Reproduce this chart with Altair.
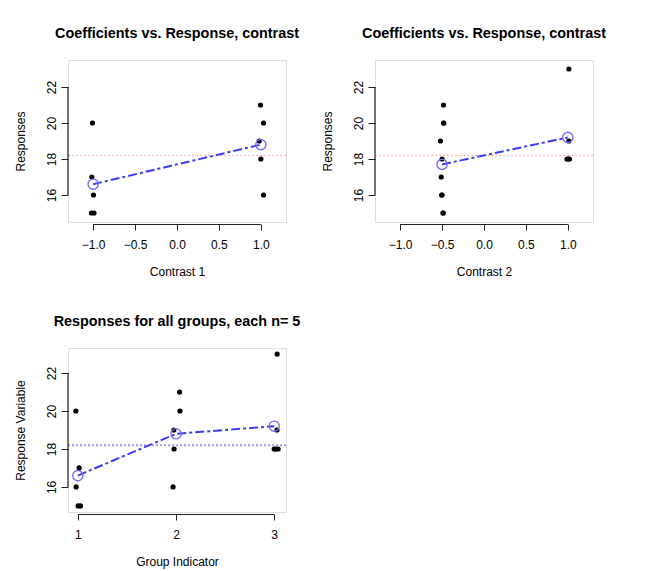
import altair as alt
import pandas as pd

FONT = "Liberation Sans"

# Responses per group
g1 = [20, 17, 16, 15, 15]
g2 = [21, 20, 19, 18, 16]
g3 = [23, 19, 18, 18, 18]

# Jittered x positions
c1_x_g1 = [-1.008, -1.016, -0.996, -1.02, -0.99]
c1_x_g2 = [0.996, 1.032, 0.98, 1.0, 1.032]
c2_x_g1 = [-0.48, -0.51, -0.50, -0.485, -0.49]
c2_x_g2 = [-0.483, -0.482, -0.52, -0.50, -0.505]
c2_x_g3 = [1.012, 1.012, 0.99, 1.005, 1.02]
grp_x_g1 = [0.98, 1.013, 0.983, 1.003, 1.027]
grp_x_g2 = [2.036, 2.04, 1.978, 1.98, 1.97]
grp_x_g3 = [3.03, 3.028, 3.0, 3.017, 3.04]

# Means
c1_levels = [-1.0, 1.0]
c1_means = [16.6, 18.8]
c2_levels = [-0.5, 1.0]
c2_means = [17.7, 19.2]
groups = [1, 2, 3]
group_means = [16.6, 18.8, 19.2]
grand_mean = [18.2]

# Tick values
contrast_ticks = [-1.0, -0.5, 0.0, 0.5, 1.0]
group_ticks = [1, 2, 3]
y_ticks = [16, 18, 20, 22]


def panel(px, py, mx, my, title, xtitle, ytitle, xdom, ydom, xticks, xfmt,
          W, H, hcolor, hdash, hwidth):
    xs = alt.Scale(domain=xdom, nice=False, zero=False)
    ys = alt.Scale(domain=ydom, nice=False, zero=False)
    xaxis = alt.Axis(values=xticks, format=xfmt, title=xtitle, domain=False,
                     tickSize=6, offset=2, grid=False, tickColor="#222",
                     labelFont=FONT, labelFontSize=12, labelColor="black",
                     labelPadding=9, titleFont=FONT, titleFontSize=12,
                     titleFontWeight="normal", titleColor="black", titlePadding=16)
    yaxis = alt.Axis(values=y_ticks, format="d", title=ytitle, domain=False,
                     tickSize=7, grid=False, tickColor="#222",
                     labelFont=FONT, labelFontSize=12, labelColor="black",
                     labelAngle=270, labelAlign="center", labelBaseline="bottom",
                     labelPadding=3, titleFont=FONT, titleFontSize=12,
                     titleFontWeight="normal", titleColor="black", titlePadding=18)
    X = lambda f="x": alt.X(f"{f}:Q", scale=xs, axis=xaxis)
    Y = lambda f="y": alt.Y(f"{f}:Q", scale=ys, axis=yaxis)

    pts = alt.Chart(pd.DataFrame({"x": px, "y": py})).mark_circle(
        size=27, color="black", opacity=1).encode(x=X(), y=Y())
    href = alt.Chart(pd.DataFrame({"y": grand_mean})).mark_rule(
        color=hcolor, strokeDash=hdash, strokeWidth=hwidth).encode(y=Y())
    mline = alt.Chart(pd.DataFrame({"x": mx, "y": my})).mark_line(
        color="#3b3bf5", strokeWidth=2, strokeDash=[9, 3, 3, 3]).encode(x=X(), y=Y())
    mpts = alt.Chart(pd.DataFrame({"x": mx, "y": my})).mark_point(
        shape="circle", filled=False, size=105, color="#6f6ff7", strokeWidth=1.4,
        opacity=1).encode(x=X(), y=Y())
    xline = alt.Chart(pd.DataFrame({"x": [xticks[0]], "x2": [xticks[-1]]})).mark_rule(
        color="#222", strokeWidth=1.2).encode(x=X(), x2="x2:Q", y=alt.value(H + 2.5))
    yline = alt.Chart(pd.DataFrame({"y": [y_ticks[0]], "y2": [y_ticks[-1]]})).mark_rule(
        color="#222", strokeWidth=1.2).encode(y=Y(), y2="y2:Q", x=alt.value(0))
    return alt.layer(href, pts, mline, mpts, xline, yline).properties(
        width=W, height=H,
        title=alt.Title(title, font=FONT, fontSize=14.4, fontWeight="bold",
                        color="black", offset=19, anchor="middle"))


p1 = panel(c1_x_g1 + c1_x_g2, g1 + g2, c1_levels, c1_means,
           "Coefficients vs. Response, contrast", "Contrast 1", "Responses",
           [-1.3, 1.3], [14.5, 23.5], contrast_ticks, ".1f", 218, 162,
           "#f28a8a", [1.5, 2.5], 1)
p2 = panel(c2_x_g1 + c2_x_g2 + c2_x_g3, g1 + g2 + g3, c2_levels, c2_means,
           "Coefficients vs. Response, contrast", "Contrast 2", "Responses",
           [-1.3, 1.3], [14.5, 23.5], contrast_ticks, ".1f", 218, 162,
           "#f28a8a", [1.5, 2.5], 1)
p3 = panel(grp_x_g1 + grp_x_g2 + grp_x_g3, g1 + g2 + g3, groups, group_means,
           "Responses for all groups, each n= 5", "Group Indicator", "Response Variable",
           [0.9, 3.12], [14.68, 23.32], group_ticks, "d", 218, 164,
           "#9a9af5", [2, 2], 2)

chart = alt.concat(p1, p2, p3, columns=2, spacing={"row": 126, "column": 89},
                   bounds="flush").properties(
    padding={"left": 5, "top": 17, "right": 5, "bottom": 5}
).configure_view(stroke="#666", strokeWidth=1).configure(background="white")

chart.save("out.html", embed_options={"renderer": "svg", "actions": False})
